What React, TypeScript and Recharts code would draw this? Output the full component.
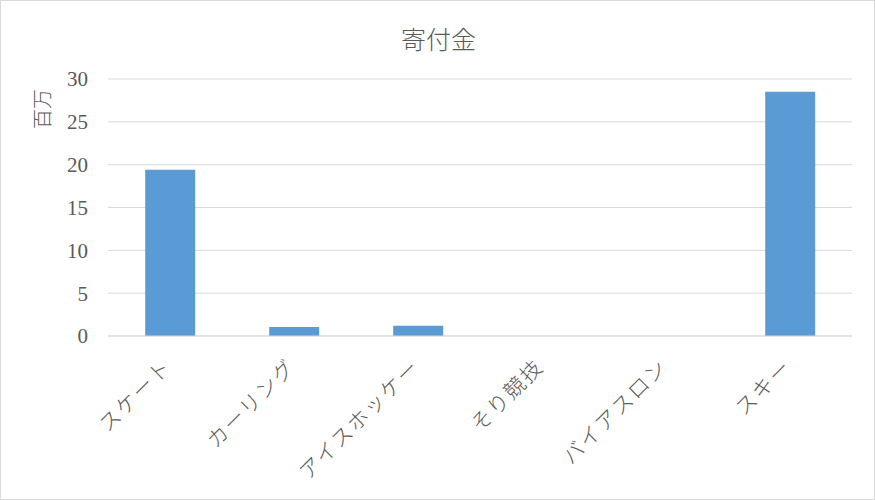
import React from 'react';
import { BarChart, Bar, XAxis, YAxis, CartesianGrid, Label } from 'recharts';

const categories = ['スケート', 'カーリング', 'アイスホッケー', 'そり競技', 'バイアスロン', 'スキー'];
const donations = [19.4, 1.05, 1.2, 0, 0, 28.5];
const yTicks = [0, 5, 10, 15, 20, 25, 30];

const data = categories.map((name, i) => ({ name, value: donations[i] }));

const JP = '"Noto Sans CJK JP", "Noto Sans", sans-serif';
const NUM = '"Liberation Serif", "DejaVu Serif", serif';
const GRAY = '#595959';

const XTick = (props: any) => {
  const { x, y, payload } = props;
  const ax = x + 3;
  const ay = y + 24;
  return (
    <text
      x={ax}
      y={ay}
      transform={`rotate(-45, ${ax}, ${ay})`}
      textAnchor="end"
      fill={GRAY}
      fontFamily={JP}
      fontSize={21}
      fontWeight={300}
      letterSpacing={2}
    >
      {payload.value}
    </text>
  );
};

const YLabel = (props: any) => {
  const vb = props.viewBox || {};
  const x = 41;
  const y = (vb.y ?? 79) + 30;
  return (
    <text
      x={x}
      y={y}
      transform={`rotate(-90, ${x}, ${y})`}
      textAnchor="middle"
      dominantBaseline="central"
      fill={GRAY}
      fontFamily={JP}
      fontSize={20}
      fontWeight={300}
    >
      百万
    </text>
  );
};

export default function App() {
  return (
    <div
      style={{
        position: 'absolute',
        left: 0,
        top: 0,
        width: 875,
        height: 500,
        boxSizing: 'border-box',
        border: '1px solid #d9d9d9',
        background: '#fff',
      }}
    >
      <div
        style={{
          position: 'absolute',
          left: 0,
          top: 19,
          width: 875,
          textAlign: 'center',
          fontFamily: JP,
          fontSize: 25,
          fontWeight: 300,
          color: GRAY,
        }}
      >
        寄付金
      </div>
      <div style={{ position: 'absolute', left: -1, top: -1 }}>
        <BarChart
          width={875}
          height={500}
          data={data}
          margin={{ top: 79, right: 23, bottom: 0, left: 0 }}
          barCategoryGap="30%"
        >
          <CartesianGrid vertical={false} stroke="#d9d9d9" />
          <XAxis
            dataKey="name"
            height={164}
            interval={0}
            tickLine={false}
            axisLine={{ stroke: '#d9d9d9' }}
            tick={<XTick />}
          />
          <YAxis
            width={108}
            domain={[0, 30]}
            ticks={yTicks}
            tickLine={false}
            axisLine={false}
            tickSize={0}
            tickMargin={20}
            tick={{ fill: GRAY, fontFamily: NUM, fontSize: 21 }}
          >
            <Label content={<YLabel />} />
          </YAxis>
          <Bar dataKey="value" fill="#5b9bd5" isAnimationActive={false} />
        </BarChart>
      </div>
    </div>
  );
}
